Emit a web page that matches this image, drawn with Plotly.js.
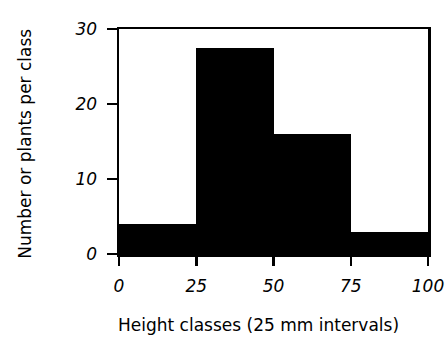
<!DOCTYPE html>
<html>
<head>
<meta charset="utf-8">
<script src="https://cdn.plot.ly/plotly-3.0.1.min.js"></script>
<style>html,body{margin:0;padding:0;background:#fff;}#chart{width:446px;height:337px;}</style>
</head>
<body>
<div id="chart"></div>
<script>
const classStarts = [0, 25, 50, 75];
const classWidth = 25;
const plantCounts = [4, 27.5, 16, 3];
const xTickVals = [0, 25, 50, 75, 100];
const xTickText = ['0', '25', '50', '75', '100'];
const yTickVals = [0, 10, 20, 30];
const yTickText = ['0', '10', '20', '30'];
const xTitle = 'Height classes (25 mm intervals)';
const yTitle = 'Number or plants per class';

const tickFont = {family: 'DejaVu Sans', size: 17, color: '#000', style: 'italic'};
const titleFont = {family: 'DejaVu Sans', size: 17, color: '#000'};

const trace = {
  type: 'bar',
  x: classStarts,
  y: plantCounts,
  width: classStarts.map(() => classWidth),
  offset: 0,
  marker: {color: '#000', line: {width: 0}},
  hoverinfo: 'skip'
};

const layout = {
  width: 446, height: 337,
  margin: {l: 119, r: 18, t: 29, b: 83, pad: 0},
  paper_bgcolor: '#fff', plot_bgcolor: '#fff',
  showlegend: false,
  bargap: 0,
  xaxis: {
    range: [0, 100], tickvals: xTickVals, ticktext: xTickText,
    ticks: 'outside', ticklen: 9, tickwidth: 2.5, tickcolor: '#000',
    showline: true, linewidth: 2.5, linecolor: '#000', mirror: true,
    showgrid: false, zeroline: false, tickfont: tickFont,
    ticklabelstandoff: 6, fixedrange: true
  },
  yaxis: {
    range: [0, 30], tickvals: yTickVals, ticktext: yTickText,
    ticks: 'outside', ticklen: 10, tickwidth: 2.5, tickcolor: '#000',
    showline: true, linewidth: 2.5, linecolor: '#000', mirror: true,
    showgrid: false, zeroline: false, tickfont: tickFont,
    ticklabelstandoff: 6, fixedrange: true
  },
  annotations: [
    {text: xTitle, xref: 'paper', yref: 'paper', x: (258 - 119) / 309, y: -(325 - 254) / 225,
     xanchor: 'center', yanchor: 'middle', showarrow: false, font: titleFont},
    {text: yTitle, xref: 'paper', yref: 'paper', x: -(119 - 25) / 309, y: 0.49,
     xanchor: 'center', yanchor: 'middle', textangle: -90, showarrow: false, font: titleFont}
  ]
};

Plotly.newPlot('chart', [trace], layout, {staticPlot: true, displayModeBar: false});
</script>
</body>
</html>
